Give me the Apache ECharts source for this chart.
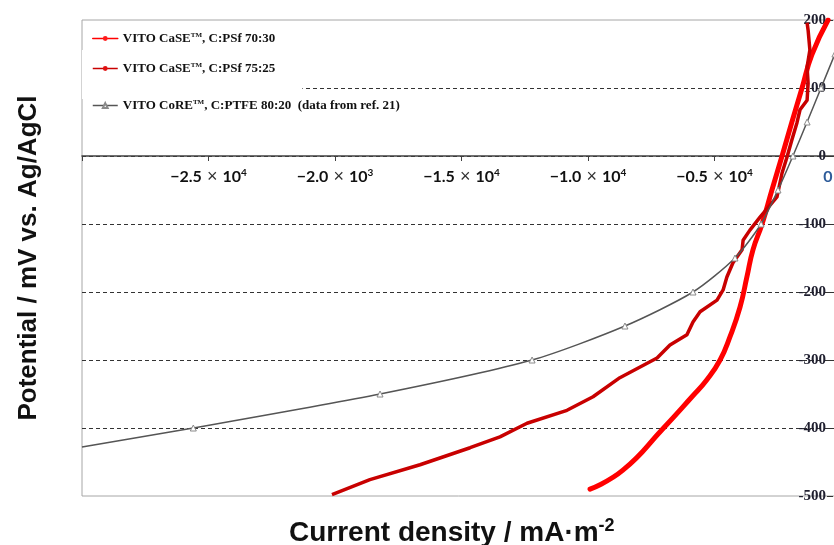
<!DOCTYPE html>
<html>
<head>
<meta charset="utf-8">
<script src="https://cdn.jsdelivr.net/npm/echarts@6/dist/echarts.min.js"></script>
<style>
html,body{margin:0;padding:0;background:#fff;}
#chart{width:834px;height:545px;}
</style>
</head>
<body>
<div id="chart"></div>
<script>
// ---- data ----
const seriesNames = [
  'VITO CaSE™, C:PSf 70:30',
  'VITO CaSE™, C:PSf 75:25',
  'VITO CoRE™, C:PTFE 80:20  (data from ref. 21)'
];
// 70:30 (bright red)
const case7030Current = [-9920,-8620,-7040,-5890,-5300,-4780,-4390,-3990,-3720,-3480,-3120,-2730,-2330,-1940,-1540,-1150,-510];
const case7030Potential = [-490,-462,-401,-354,-329,-300,-266,-222,-178,-138,-100,-50,0,50,100,149,200];
// 75:25 (dark red)
const case7525Current = [-20120,-18620,-16640,-14660,-13480,-12410,-10830,-9800,-8740,-7270,-6760,-6090,-5850,-5570,-4900,-4660,-4510,-4270,-3910,-3870,-3600,-3200,-2530,-2330,-2130,-1940,-1740,-1620,-1340,-1300,-1340,-1230,-1300,-1340];
const case7525Potential = [-498,-476,-454,-429,-413,-393,-374,-354,-326,-297,-278,-263,-244,-229,-212,-197,-178,-157,-138,-124,-109,-90,-60,-25,-1,24,49,68,82,107,131,156,185,196];
// CoRE 80:20 (gray, triangles)
const core8020Current = [-30000,-25600,-18220,-12210,-8540,-5850,-4190,-3160,-2490,-1900,-1340,-790,-240];
const core8020Potential = [-428,-400,-350,-300,-250,-200,-150,-100,-50,0,50,100,150];
// tick labels
const xTickValues = [-25000,-20000,-15000,-10000,-5000,0];
const xTickMantissa = ['−2.5','−2.0','−1.5','−1.0','−0.5','0'];
const xTickExponent = ['4','3','4','4','4',''];

function pairs(xs, ys){ return xs.map((x,i)=>[x, ys[i]]); }

const chart = echarts.init(document.getElementById('chart'), null, {renderer:'canvas'});

const legendRich = {
  n:{fontFamily:'Liberation Serif',fontWeight:'bold',fontSize:13,color:'#111'},
  t:{fontFamily:'Liberation Serif',fontWeight:'bold',fontSize:7,color:'#111',verticalAlign:'top',lineHeight:10}
};
function legendFmt(name){
  const parts = name.split('™');
  return '{n|'+parts[0]+'}{t|TM}{n|'+parts[1]+'}';
}
function mkLegend(name, top, extra){
  return Object.assign({
    data:[name], left:82, top:top, orient:'vertical',
    itemWidth:25, itemHeight:6, padding:[8,10,8,10],
    formatter:legendFmt,
    textStyle:{rich:legendRich},
    lineStyle:{width:1.5}
  }, extra||{});
}

const greySplitColors = ['rgba(0,0,0,0)','#333','#333','#333','#333','#333','#333','rgba(0,0,0,0)'];

const greyData = pairs(core8020Current, core8020Potential).map((p,i)=> i===0 ? {value:p, symbol:'none'} : p);

chart.setOption({
  animation:false,
  backgroundColor:'#fff',
  title:{
    text:'{a|Current density / mA·m}{s|-2}',
    left:284, top:512,
    textStyle:{rich:{
      a:{fontFamily:'Liberation Sans',fontWeight:'bold',fontSize:28,color:'#111',lineHeight:32},
      s:{fontFamily:'Liberation Sans',fontWeight:'bold',fontSize:18,color:'#111',verticalAlign:'top',lineHeight:18}
    }}
  },
  legend:[
    mkLegend(seriesNames[0], 24),
    mkLegend(seriesNames[1], 50, {backgroundColor:'#fff', padding:[12,27,24,10]}),
    mkLegend(seriesNames[2], 91)
  ],
  grid:{left:82, top:20, width:759, height:476, show:true, borderColor:'#a6a6a6', borderWidth:1, backgroundColor:'#fff', containLabel:false, outerBoundsMode:'none'},
  xAxis:{
    type:'value', min:-30000, max:0, interval:5000,
    position:'bottom', offset:-340,
    axisLine:{onZero:false, lineStyle:{color:'#404040', width:1.5}},
    axisTick:{show:true, length:5, lineStyle:{color:'#404040'}},
    splitLine:{show:false},
    axisLabel:{
      margin:12, hideOverlap:false,
      formatter:function(v){
        const i = xTickValues.indexOf(v);
        if(i<0) return '';
        if(xTickExponent[i]==='') return '{z|'+xTickMantissa[i]+'}';
        return '{b|'+xTickMantissa[i]+'}{x| × }{b|10}{e|'+xTickExponent[i]+'}';
      },
      rich:{
        b:{fontFamily:'Lato',fontWeight:'bold',fontSize:16,color:'#111',lineHeight:18},
        x:{fontFamily:'Liberation Sans',fontWeight:'normal',fontSize:18,color:'#333',lineHeight:18},
        e:{fontFamily:'Lato',fontWeight:'bold',fontSize:10,color:'#111',verticalAlign:'top',lineHeight:11},
        z:{fontFamily:'Lato',fontWeight:'bold',fontSize:16,color:'#2e5c9a',padding:[0,26,0,0],lineHeight:18}
      }
    }
  },
  yAxis:[{
    type:'value', min:-500, max:200, interval:100,
    position:'right', offset:-8,
    axisLine:{show:false, onZero:false},
    axisTick:{show:true, inside:true, length:6, lineStyle:{color:'#333'}},
    axisLabel:{inside:true, margin:7, fontFamily:'Liberation Serif', fontWeight:'bold', fontSize:15, color:'#1f1f2f'},
    splitLine:{show:true, lineStyle:{color:greySplitColors, type:[4,3], width:1}}
  },{
    type:'value', min:-500, max:200, interval:100,
    position:'left',
    axisLine:{show:false, onZero:false}, axisTick:{show:false}, axisLabel:{show:false}, splitLine:{show:false},
    name:'Potential / mV vs. Ag/AgCl', nameLocation:'middle', nameRotate:90, nameGap:40,
    nameTextStyle:{fontFamily:'Liberation Sans', fontWeight:'bold', fontSize:26, color:'#111'}
  }],
  series:[
    {
      name:seriesNames[0], type:'line', yAxisIndex:0,
      data:pairs(case7030Current, case7030Potential),
      smooth:0.5, showSymbol:false, symbol:'circle', symbolSize:4,
      lineStyle:{color:'#ff0000', width:5, cap:'round', join:'round'},
      itemStyle:{color:'#ff1a1a'}, z:3
    },
    {
      name:seriesNames[1], type:'line', yAxisIndex:0,
      data:pairs(case7525Current, case7525Potential),
      showSymbol:false, symbol:'circle', symbolSize:4,
      lineStyle:{color:'#c80000', width:3.5, join:'round'},
      itemStyle:{color:'#e01010'}, z:4
    },
    {
      name:seriesNames[2], type:'line', yAxisIndex:0,
      data:greyData,
      smooth:0.25, symbol:'triangle', symbolSize:6, showSymbol:true,
      lineStyle:{color:'#555', width:1.5},
      itemStyle:{color:'#fff', borderColor:'#8a8a8a', borderWidth:1}, z:5
    }
  ]
});
</script>
</body>
</html>
